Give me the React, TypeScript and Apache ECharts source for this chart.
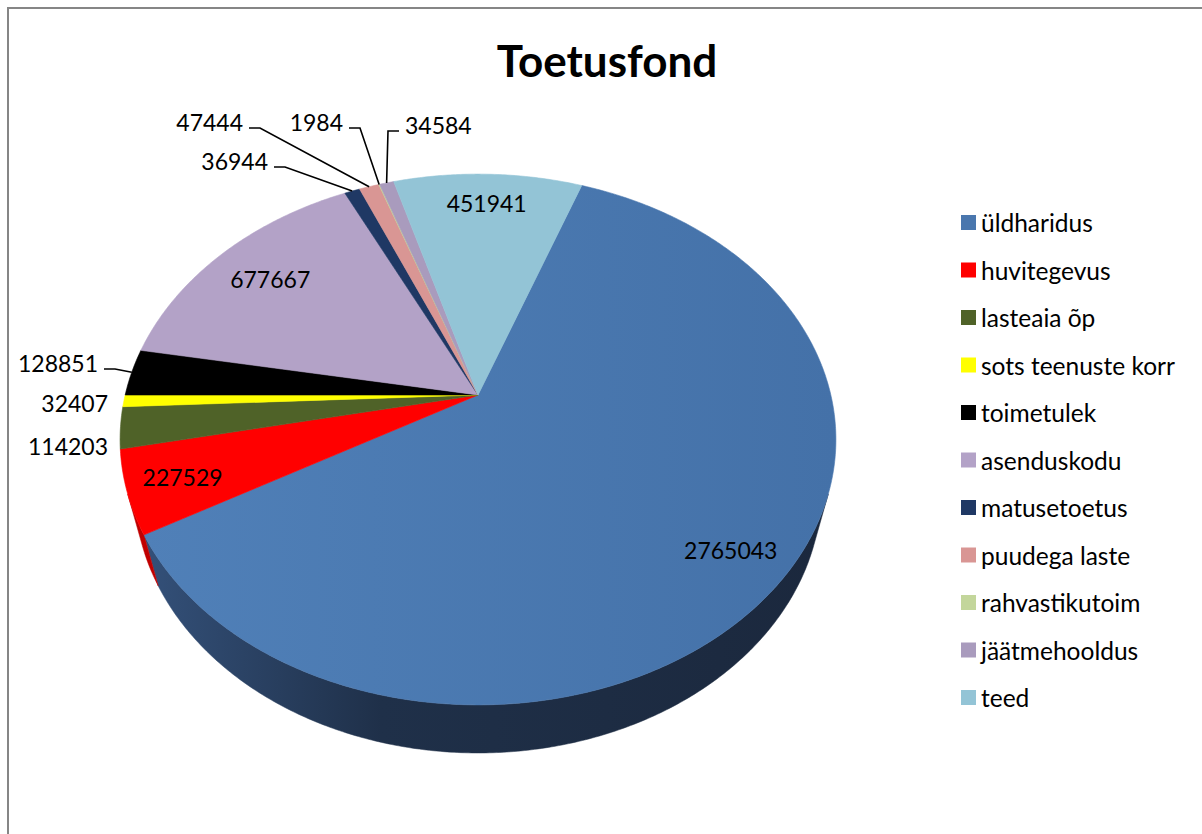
import React, { useEffect, useRef } from "react";
import * as echarts from "echarts";

// ---------- data ----------
const categories = [
  "üldharidus",
  "huvitegevus",
  "lasteaia õp",
  "sots teenuste korr",
  "toimetulek",
  "asenduskodu",
  "matusetoetus",
  "puudega laste",
  "rahvastikutoim",
  "jäätmehooldus",
  "teed",
];
const values = [2765043, 227529, 114203, 32407, 128851, 677667, 36944, 47444, 1984, 34584, 451941];
const chartTitle = "Toetusfond";

// ---------- styles ----------
const topColors = [
  "#4A77AE", "#FF0000", "#4F6228", "#FFFF00", "#000000", "#B3A2C7",
  "#1F3864", "#D99694", "#C3D69B", "#A99BBD", "#93C4D6",
];
const sideColors = [
  "#1F3049", "#C00000", "#3A481D", "#C8C800", "#000000", "#857799",
  "#14264A", "#A87270", "#93A672", "#7E7394", "#6E98A8",
];
const FONT = "Lato";

// ---------- pie geometry (perspective projection of a tilted disc) ----------
const CX = 478, CY = 395;      // projected centre of the disc
const F = 1435;                 // focal scale
const S = 0.731, C = 0.682;     // sin / cos of tilt
const D = 4.067;                // camera distance (in radii)
const H = 0.227;                // thickness (in radii)
const START = -70.1;            // start angle of first slice (deg, clockwise from right)

// label layout for slices whose label sits outside the pie
const outsideLabels: Record<number, { x: number; y: number; align: "left" | "right"; leader: boolean }> = {
  2: { x: 108, y: 446, align: "right", leader: false },
  3: { x: 108, y: 403, align: "right", leader: false },
  4: { x: 98, y: 363, align: "right", leader: true },
  6: { x: 268, y: 161, align: "right", leader: true },
  7: { x: 243, y: 122, align: "right", leader: true },
  8: { x: 343, y: 122, align: "right", leader: true },
  9: { x: 405, y: 125, align: "left", leader: true },
};
const insideRadius: Record<number, number> = { 0: 0.85, 1: 0.85, 5: 0.8, 10: 0.85 };

function proj(u: number, v: number, w: number): [number, number] {
  const depth = D - (v * C + w * S);
  return [CX + (F * u) / depth, CY + (F * (v * S - w * C)) / depth];
}
function rim(angDeg: number, r = 1, w = 0): [number, number] {
  const a = (angDeg * Math.PI) / 180;
  return proj(r * Math.cos(a), r * Math.sin(a), w);
}

const total = values.reduce((s, v) => s + v, 0);
const spans = values.map((v) => (v / total) * 360);
const starts: number[] = [];
spans.reduce((acc, s, i) => {
  starts[i] = acc;
  return acc + s;
}, START);

const VIS0 = (Math.asin(1 / (D * C)) * 180) / Math.PI;
const VIS1 = 180 - VIS0;

function arcPoints(a0: number, a1: number, w = 0): [number, number][] {
  const n = Math.max(2, Math.ceil(Math.abs(a1 - a0) / 0.5));
  const pts: [number, number][] = [];
  for (let k = 0; k <= n; k++) pts.push(rim(a0 + ((a1 - a0) * k) / n, 1, w));
  return pts;
}

export default function App() {
  const ref = useRef<HTMLDivElement>(null);
  useEffect(() => {
    if (!ref.current) return;
    const chart = echarts.init(ref.current, undefined, { renderer: "svg" });

    const sideGradient = {
      type: "linear", x: 140, y: 0, x2: 830, y2: 0, global: true,
      colorStops: [
        { offset: 0, color: "#34517A" },
        { offset: 0.35, color: "#1F3049" },
        { offset: 1, color: "#1B283D" },
      ],
    };

    chart.setOption({
      animation: false,
      backgroundColor: "#ffffff",
      graphic: [
        {
          type: "rect",
          shape: { x: 8, y: 8, width: 1400, height: 1000 },
          style: { fill: "none", stroke: "#868686", lineWidth: 2 },
          silent: true,
        },
        {
          type: "text",
          x: 607,
          y: 60,
          style: {
            text: chartTitle,
            fontFamily: FONT,
            fontWeight: "bold",
            fontSize: 44,
            fill: "#000",
            textAlign: "center",
            textVerticalAlign: "middle",
          },
        },
      ],
      legend: {
        data: categories,
        orient: "vertical",
        left: 956,
        top: 205,
        padding: 5,
        itemWidth: 15,
        itemHeight: 15,
        itemGap: 22.5,
        icon: "rect",
        selectedMode: false,
        textStyle: { fontFamily: FONT, fontSize: 24.5, color: "#000", lineHeight: 25 },
      },
      series: [
        {
          // legend provider only
          type: "pie",
          name: "legend",
          center: [-100, -100],
          radius: [0, 1],
          silent: true,
          label: { show: false },
          labelLine: { show: false },
          data: categories.map((name, i) => ({ name, value: values[i], itemStyle: { color: topColors[i] } })),
        },
        {
          type: "custom",
          name: "sides",
          coordinateSystem: "none",
          z: 1,
          silent: true,
          data: values,
          renderItem: (params: any) => {
            const i = params.dataIndex;
            const a0 = Math.max(starts[i], VIS0);
            const a1 = Math.min(starts[i] + spans[i], VIS1);
            if (a1 <= a0) return { type: "group", children: [] };
            const pts = arcPoints(a0, a1, 0).concat(arcPoints(a1, a0, -H));
            const fill = i === 0 ? sideGradient : sideColors[i];
            return {
              type: "polygon",
              shape: { points: pts },
              style: { fill, stroke: fill, lineWidth: 0.5 },
            };
          },
        },
        {
          type: "custom",
          name: "tops",
          coordinateSystem: "none",
          z: 2,
          silent: true,
          data: values,
          renderItem: (params: any) => {
            const i = params.dataIndex;
            const a0 = starts[i];
            const a1 = a0 + spans[i];
            const pts: [number, number][] = [[CX, CY], ...arcPoints(a0, a1, 0)];
            const fill =
              i === 0
                ? {
                    type: "linear", x: 140, y: 0, x2: 836, y2: 0, global: true,
                    colorStops: [
                      { offset: 0, color: "#5080B8" },
                      { offset: 1, color: "#4471A8" },
                    ],
                  }
                : topColors[i];
            return {
              type: "polygon",
              shape: { points: pts },
              style: { fill, stroke: topColors[i], lineWidth: 0.6 },
            };
          },
        },
        {
          type: "custom",
          name: "labels",
          coordinateSystem: "none",
          z: 3,
          silent: true,
          data: values,
          renderItem: (params: any, api: any) => {
            const i = params.dataIndex;
            const val = api.value(0);
            const mid = starts[i] + spans[i] / 2;
            const out = outsideLabels[i];
            const children: any[] = [];
            if (!out) {
              const [x, y] = rim(mid, insideRadius[i] ?? 0.85, 0);
              children.push({
                type: "text",
                style: {
                  text: String(val), x, y,
                  fontFamily: FONT, fontSize: 23, fill: "#000",
                  textAlign: "center", textVerticalAlign: "middle",
                },
              });
            } else {
              children.push({
                type: "text",
                style: {
                  text: String(val), x: out.x, y: out.y,
                  fontFamily: FONT, fontSize: 23, fill: "#000",
                  textAlign: out.align, textVerticalAlign: "middle",
                },
              });
              if (out.leader) {
                const dir = out.align === "right" ? 1 : -1;
                const ly = out.y + 6;
                const x0 = out.x + dir * 6;
                const x1 = out.x + dir * 17;
                const end = rim(mid, 1, 0);
                children.push({
                  type: "polyline",
                  shape: { points: [[x0, ly], [x1, ly], end] },
                  style: { stroke: "#000", lineWidth: 1.6, fill: "none" },
                });
              }
            }
            return { type: "group", children };
          },
        },
      ],
    });
    return () => chart.dispose();
  }, []);
  return (
    <div
      ref={ref}
      style={{ position: "absolute", left: 0, top: 0, width: 1202, height: 834 }}
    />
  );
}
